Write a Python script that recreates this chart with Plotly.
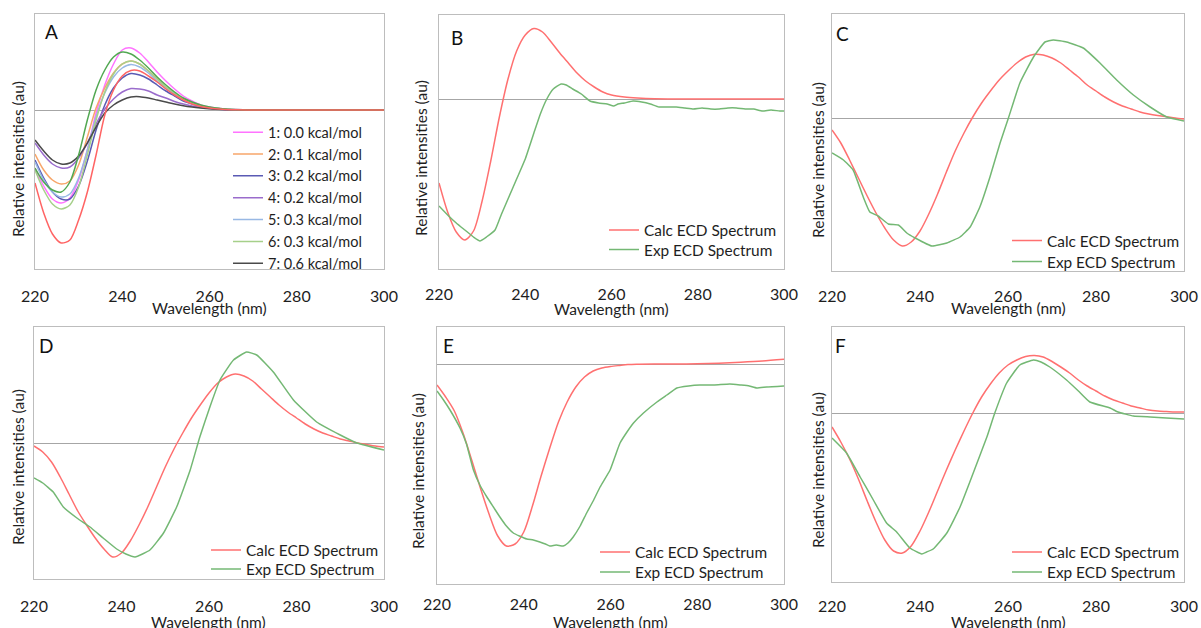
import plotly.graph_objects as go

W, H = 1201, 628

# ---------------- DATA ----------------
wl_A = [220, 222, 224, 226, 228, 230, 232, 234, 236, 238, 240, 242, 244, 246, 248,
        250, 252, 254, 256, 258, 260, 263, 266, 270, 280, 290, 300]
A_conf1 = [-58, -76, -89, -93, -88, -70, -40, -3, 25, 46, 60, 62, 57, 48, 38, 29, 21, 14, 9, 5, 3, 1.2, 0.4, 0, 0, 0, 0]
A_conf2 = [-44, -60, -70, -74, -71, -55, -27, 2, 22, 37, 46, 49, 46, 39, 31, 23, 17, 11, 7, 4, 2.5, 1, 0.3, 0, 0, 0, 0]
A_conf3 = [-50, -68, -82, -89, -89, -76, -51, -20, 5, 22, 32, 36.5, 35, 31, 25, 19, 14, 9, 6, 3.5, 2, 0.8, 0.3, 0, 0, 0, 0]
A_conf4 = [-33, -45, -54, -58, -57, -48, -33, -14, 1, 11, 18, 21.5, 21, 19, 15, 12, 8.5, 6, 4, 2.5, 1.5, 0.6, 0.2, 0, 0, 0, 0]
A_conf5 = [-52, -70, -82, -87, -84, -68, -40, -7, 17, 33, 42, 45.5, 43, 37, 29, 22, 16, 11, 7, 4, 2.5, 1, 0.3, 0, 0, 0, 0]
A_conf6 = [-60, -80, -94, -99, -95, -77, -45, -10, 18, 36, 46, 49, 46, 39, 31, 23, 17, 11, 7, 4, 2.5, 1, 0.3, 0, 0, 0, 0]
A_conf7 = [-30, -41, -50, -54, -53, -46, -33, -17, -3, 5, 10, 13, 13.3, 12, 10, 8, 6, 4.3, 3, 2, 1.2, 0.5, 0.2, 0, 0, 0, 0]
A_extra = [-58, -72, -80, -82, -72, -45, -10, 20, 40, 53, 58, 56, 50, 42, 33, 25, 18, 12, 8, 5, 3, 1.2, 0.4, 0, 0, 0, 0]
A_weighted = [-73, -103, -124, -133, -130, -110, -82, -45, -5, 20, 34, 39.5, 39, 34, 28, 21, 15, 10, 6, 3.5, 2, 0.8, 0.3, 0, 0, 0, 0]
A_labels = ["1: 0.0 kcal/mol", "2: 0.1 kcal/mol", "3: 0.2 kcal/mol", "4: 0.2 kcal/mol",
            "5: 0.3 kcal/mol", "6: 0.3 kcal/mol", "7: 0.6 kcal/mol"]

wl_B_calc = [220, 222, 224, 226, 228, 230, 232, 234, 236, 238, 240, 242, 244, 246, 248, 250,
             252, 254, 256, 258, 260, 263, 266, 270, 280, 300]
B_calc = [-84, -113, -133, -141, -132, -102, -62, -18, 20, 48, 64, 70.5, 67, 57, 46, 36,
          26, 18, 12, 7, 4, 2, 1, 0.3, 0, 0]
wl_B_exp = [220, 222, 224, 226, 228, 229.5, 231, 233, 234.5, 236, 238, 240, 242, 243.5, 245,
            246.5, 248.3, 249.5, 251, 253, 255, 257, 259, 260.5, 261.5, 263, 265, 267, 269,
            271, 273, 275, 277, 279, 281, 283, 285, 287, 289, 291, 293, 295, 297, 299, 300]
B_exp = [-107, -116, -124, -131, -138, -142, -138, -131, -115, -100, -80, -60, -34, -15, 0,
         10, 15, 14, 10, 5, -2, -4, -5, -7, -5, -4, -2, -3, -5,
         -8, -8, -8, -9, -10, -9, -10, -10, -9, -9, -10, -10, -12, -11, -12, -12]

wl_2nm = [220, 222, 224, 226, 228, 230, 232, 234, 236, 238, 240, 242, 244, 246, 248, 250,
          252, 254, 256, 258, 260, 262, 264, 266, 268, 270, 272, 274, 276, 278, 280,
          282, 284, 286, 288, 290, 292, 294, 296, 298, 300]
C_calc = [-12, -25, -42, -60, -78, -95, -110, -122, -128, -124, -113, -96, -76, -54, -33, -15,
          1, 15, 27, 38, 47, 55, 61, 63.7, 63, 60, 55, 48, 41, 33, 27,
          21, 16, 12, 9, 6, 4, 2.5, 1.3, 0, -1]
wl_C_exp = [220, 222.6, 224.8, 227.1, 228.6, 230.5, 232.8, 235.1, 237, 238.9, 242.7, 246.1,
            249.1, 251.4, 253.6, 255.9, 258.2, 260.1, 262.7, 265.8, 268.4, 270.3, 273.3,
            277.1, 280.9, 284.7, 288.5, 292.3, 296.1, 300]
C_exp = [-35, -42, -52, -79, -94, -98, -106, -107, -115, -120, -128, -125,
         -119, -109, -89, -59, -25, 0, 35, 61, 76, 78, 76,
         70, 55, 38, 23, 11, 1, -3]

D_calc = [-3, -9, -19, -34, -51, -68, -82, -95, -106, -114, -110, -98, -82, -64, -44, -24,
          -6, 10, 25, 38, 50, 60, 66, 69, 67, 62, 54, 46, 38, 31, 25,
          19, 14, 10, 7, 4, 2, 0, -1.5, -3, -4]
wl_D_exp = [220, 222, 224.4, 226.7, 229.8, 232.8, 235.8, 238.9, 241, 243.1, 246.5, 249.6,
            252.6, 255.7, 257.9, 260.2, 262.5, 265.6, 268.6, 270.9, 274.7, 279.3, 284.6,
            290, 293.8, 300]
D_exp = [-35, -40, -49, -64, -75, -84, -95, -106, -111, -114, -107, -90,
         -64, -27, 6, 36, 63, 83, 91, 88, 71, 43, 21,
         8, 0, -7]

wl_E_calc = [220, 222, 224, 226, 228, 230, 232, 234, 236, 238, 240, 242, 244, 246, 248, 250,
             252, 254, 256, 258, 260, 262, 264, 266, 270, 275, 280, 285, 290, 295, 300]
E_calc = [-21, -33, -47, -69, -96, -124, -150, -172, -182, -180, -168, -142, -112, -84, -58, -38,
          -23, -13, -7, -4, -2.5, -1.5, -0.6, -0.2, 0, 0, 0.3, 0.8, 1.8, 3, 4.7]
wl_E_exp = [220, 221.5, 223, 225.3, 226.8, 228.4, 230, 231.5, 233, 234.5, 236, 237.6, 239,
            240.7, 242.2, 243.7, 245, 246, 247.5, 249.1, 250.2, 251.4, 253, 254.5, 256,
            257.6, 259.9, 261, 262.2, 263.8, 265.3, 267.6, 270.7, 273, 275.3, 278, 280.6,
            284, 287.5, 290, 292, 293.7, 296, 300]
E_exp = [-27, -36, -46, -64, -80, -106, -122, -133, -143, -153, -162, -169, -172,
         -175, -176, -178, -180, -182, -181, -182, -179, -173, -162, -149, -137,
         -123, -106, -93, -79, -68, -59, -49, -38, -31, -24, -22, -21,
         -21, -20, -21, -22, -24, -23, -22]

F_calc = [-14, -29, -46, -66, -88, -109, -127, -138, -140, -133, -118, -99, -78, -57, -37, -18,
          0, 16, 29, 40, 48, 53, 56.5, 57.5, 56, 51.5, 46, 40, 33, 27, 22,
          17, 13, 10, 7, 5, 3, 2, 1.5, 1, 1]
wl_F_exp = [220, 223.3, 226.4, 229.4, 232.4, 234.7, 237.7, 240.4, 241.5, 243, 246.1, 249.1,
            252.1, 255.2, 257, 259.7, 262.7, 265.8, 267.5, 269.5, 273.3, 276, 278.6, 283.2,
            285, 288.5, 292.3, 296, 300]
F_exp = [-25, -40, -64, -87, -110, -119, -135, -141, -139, -136, -120, -94,
         -60, -24, 0, 30, 48, 53, 51, 46, 33, 22, 11, 5,
         1, -3, -4, -5, -6]

x_ticks = [220, 240, 260, 280, 300]
zero_ticks = [240, 260, 280]
calc_name = "Calc ECD Spectrum"
exp_name = "Exp ECD Spectrum"
x_title = "Wavelength (nm)"
y_title = "Relative intensities (au)"

# ---------------- STYLE / LAYOUT ----------------
FONT = "Lato"
TXT = "#1e1e1e"
A_colors = ["#ff73ff", "#f7a66a", "#5a5ab4", "#9a6ccc", "#98b8e4", "#a6d08a", "#4a4a4a"]
A_extra_color = "#52a852"
A_weighted_color = "#ff6464"
CALC = "#ff7070"
EXP = "#74b874"

# pixel geometry of each panel
panels = [
    dict(letter="A", px=(35, 384), py=(14, 269), yr=(-159, 96), tl=13, let=(51, 31),
         xt=308, yt=(18, 159), leg=[(228, 116.2)]),
    dict(letter="B", px=(439, 784), py=(15, 269), yr=(-170, 84), tl=11, let=(457, 38),
         xt=309, yt=(421, 158), leg=[(604, 213.5), (604, 233)]),
    dict(letter="C", px=(832, 1184), py=(14, 271), yr=(-153, 104), tl=11, let=(842, 33),
         xt=308, yt=(818, 160), leg=[(1007, 224), (1007, 245)]),
    dict(letter="D", px=(34, 384), py=(327, 579), yr=(-136, 116), tl=13, let=(46, 345),
         xt=622, yt=(18, 467), leg=[(206, 533.5), (206, 552.5)]),
    dict(letter="E", px=(437, 784), py=(327, 584), yr=(-220, 37), tl=6, let=(448, 345),
         xt=622, yt=(418, 471), leg=[(595, 535.5), (595, 555.5)]),
    dict(letter="F", px=(832, 1184), py=(327, 582), yr=(-169, 86), tl=10, let=(840, 345),
         xt=622, yt=(818, 470), leg=[(1007, 535.5), (1007, 555.5)]),
]

fig = go.Figure()

def ax(i):
    return "" if i == 1 else str(i)

# Panel A traces
A_series = [A_conf1, A_conf2, A_conf3, A_conf4, A_conf5, A_conf6, A_conf7]
for k, ser in enumerate(A_series):
    fig.add_trace(go.Scatter(x=wl_A, y=ser, mode="lines", name=A_labels[k],
                             line=dict(color=A_colors[k], width=1.5, shape="spline", smoothing=0.8),
                             xaxis="x", yaxis="y", legend="legend"))
fig.add_trace(go.Scatter(x=wl_A, y=A_extra, mode="lines", showlegend=False,
                         line=dict(color=A_extra_color, width=1.5, shape="spline", smoothing=0.8),
                         xaxis="x", yaxis="y"))
fig.add_trace(go.Scatter(x=wl_A, y=A_weighted, mode="lines", showlegend=False,
                         line=dict(color=A_weighted_color, width=1.5, shape="spline", smoothing=0.8),
                         xaxis="x", yaxis="y"))

pairs = [
    (2, wl_B_calc, B_calc, wl_B_exp, B_exp),
    (3, wl_2nm, C_calc, wl_C_exp, C_exp),
    (4, wl_2nm, D_calc, wl_D_exp, D_exp),
    (5, wl_E_calc, E_calc, wl_E_exp, E_exp),
    (6, wl_2nm, F_calc, wl_F_exp, F_exp),
]
# legends: panel A -> "legend"; panel n (2..6) -> legend{2n-2} for calc, legend{2n-1} for exp
for i, xc, yc, xe, ye in pairs:
    fig.add_trace(go.Scatter(x=xc, y=yc, mode="lines", name=calc_name,
                             line=dict(color=CALC, width=1.5, shape="spline", smoothing=0.8),
                             xaxis="x" + ax(i), yaxis="y" + ax(i), legend="legend" + str(2 * i - 2)))
    fig.add_trace(go.Scatter(x=xe, y=ye, mode="lines", name=exp_name,
                             line=dict(color=EXP, width=1.5, shape="spline", smoothing=0.4),
                             xaxis="x" + ax(i), yaxis="y" + ax(i), legend="legend" + str(2 * i - 1)))

layout = dict(
    width=W, height=H, margin=dict(l=0, r=0, t=0, b=0),
    paper_bgcolor="white", plot_bgcolor="white",
    font=dict(family=FONT, size=16, color=TXT),
    annotations=[],
)

def legend_cfg(x, y, size):
    return dict(x=x / W, y=1 - y / H, xanchor="left", yanchor="top",
                bgcolor="rgba(0,0,0,0)", borderwidth=0, itemwidth=30, tracegroupgap=0,
                font=dict(family=FONT, size=size, color=TXT), itemclick=False)

for n, p in enumerate(panels, start=1):
    x0, x1 = p["px"][0] / W, p["px"][1] / W
    y0, y1 = 1 - p["py"][1] / H, 1 - p["py"][0] / H
    rmin, rmax = p["yr"]
    layout["xaxis" + ax(n)] = dict(
        domain=[x0, x1], range=[220, 300], anchor="y" + ax(n),
        tickvals=x_ticks, ticks="outside", ticklen=p["tl"], tickcolor="rgba(0,0,0,0)",
        tickfont=dict(size=16, color=TXT),
        showline=True, mirror=True, linecolor="#bdbdbd", linewidth=1,
        showgrid=False, zeroline=False, automargin=False,
    )
    layout["yaxis" + ax(n)] = dict(
        domain=[y0, y1], range=[rmin, rmax], anchor="x" + ax(n),
        showticklabels=False, ticks="",
        showline=True, mirror=True, linecolor="#bdbdbd", linewidth=1,
        showgrid=False, zeroline=True, zerolinecolor="#a6a6a6", zerolinewidth=1.3,
        automargin=False,
    )
    zpos = y0 + (0 - rmin) / (rmax - rmin) * (y1 - y0)
    layout["xaxis" + str(n + 6)] = dict(
        overlaying="x" + ax(n), anchor="free", position=zpos, side="bottom",
        range=[220, 300], tickvals=zero_ticks, ticks="outside", ticklen=5,
        tickcolor="#a6a6a6", tickwidth=1.3, showticklabels=False,
        showline=False, showgrid=False, zeroline=False,
    )
    if n == 1:
        layout["legend"] = legend_cfg(p["leg"][0][0], p["leg"][0][1], 14.5)
    else:
        for j, (lx, ly) in enumerate(p["leg"]):
            layout["legend" + str(2 * n - 2 + j)] = legend_cfg(lx, ly, 15.4)
    # panel letter
    layout["annotations"].append(dict(
        text=p["letter"], xref="paper", yref="paper",
        x=p["let"][0] / W, y=1 - p["let"][1] / H, xanchor="center", yanchor="middle",
        showarrow=False, font=dict(family=FONT, size=19, color="#111111"),
    ))
    # x axis title
    layout["annotations"].append(dict(
        text=x_title, xref="x" + ax(n) + " domain", yref="paper",
        x=0.5, y=1 - p["xt"] / H, xanchor="center", yanchor="middle",
        showarrow=False, font=dict(family=FONT, size=15.5, color=TXT),
    ))
    # y axis title
    layout["annotations"].append(dict(
        text=y_title, xref="paper", yref="paper", textangle=-90,
        x=p["yt"][0] / W, y=1 - p["yt"][1] / H, xanchor="center", yanchor="middle",
        showarrow=False, font=dict(family=FONT, size=15.5, color=TXT),
    ))

fig.update_layout(**layout)
fig.write_html("out.html", config={"displayModeBar": False, "staticPlot": False},
               post_script="document.body.style.margin='0px';")
